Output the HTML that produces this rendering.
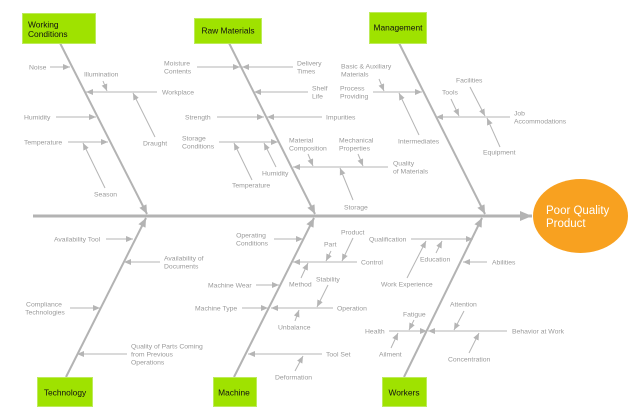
<!DOCTYPE html>
<html><head><meta charset="utf-8"><style>
html,body{margin:0;padding:0;background:#fff;}
svg{display:block;}
.l{stroke:#b5b5b5;stroke-width:1;fill:none;marker-end:url(#a);}
.t{font-family:"Liberation Sans",sans-serif;font-size:6.8px;fill:#9a9a9a;}
.b{font-family:"Liberation Sans",sans-serif;font-size:8.4px;fill:#111;}
</style></head><body>
<svg width="640" height="418" viewBox="0 0 640 418" xmlns="http://www.w3.org/2000/svg">
<defs>
<marker id="a" markerUnits="userSpaceOnUse" markerWidth="8" markerHeight="6" refX="7" refY="3" orient="auto"><path d="M0,0 L7,3 L0,6 z" fill="#b5b5b5"/></marker>
<marker id="m" markerUnits="userSpaceOnUse" markerWidth="10" markerHeight="8" refX="9" refY="4" orient="auto"><path d="M0,0 L9,4 L0,8 z" fill="#b3b3b3"/></marker>
<marker id="s" markerUnits="userSpaceOnUse" markerWidth="13" markerHeight="11" refX="12" refY="5" orient="auto"><path d="M0,0 L12,5 L0,10 z" fill="#b3b3b3"/></marker>
</defs>

<!-- spine -->
<line x1="33" y1="216" x2="532" y2="216" stroke="#b3b3b3" stroke-width="3" marker-end="url(#s)"/>
<!-- main bones -->
<g stroke="#b3b3b3" stroke-width="2" marker-end="url(#m)">
<line x1="60" y1="43" x2="147" y2="214"/>
<line x1="229" y1="43" x2="315" y2="214"/>
<line x1="399" y1="43" x2="485" y2="214"/>
<line x1="66" y1="377" x2="146" y2="218"/>
<line x1="234" y1="377" x2="314" y2="218"/>
<line x1="404" y1="377" x2="482" y2="218"/>
</g>

<!-- effect -->
<ellipse cx="580.5" cy="216" rx="47.5" ry="37" fill="#f8a120"/>
<text x="546" y="214" font-family="Liberation Sans,sans-serif" font-size="11.5" fill="#fff">Poor Quality</text>
<text x="546" y="227" font-family="Liberation Sans,sans-serif" font-size="11.5" fill="#fff">Product</text>

<!-- boxes -->
<g fill="#9fe200" stroke="#bdeb5a" stroke-width="1">
<rect x="22.5" y="13.5" width="73" height="30"/>
<rect x="194.5" y="18.5" width="67" height="25"/>
<rect x="369.5" y="12.5" width="57" height="31"/>
<rect x="37.5" y="377.5" width="55" height="29"/>
<rect x="213.5" y="377.5" width="43" height="29"/>
<rect x="382.5" y="377.5" width="44" height="29"/>
</g>
<text class="b" x="28" y="27.5">Working</text>
<text class="b" x="28" y="37">Conditions</text>
<text class="b" x="228" y="33.5" text-anchor="middle">Raw Materials</text>
<text class="b" x="398" y="30.5" text-anchor="middle">Management</text>
<text class="b" x="65" y="395.5" text-anchor="middle">Technology</text>
<text class="b" x="234" y="395.5" text-anchor="middle">Machine</text>
<text class="b" x="404" y="395.5" text-anchor="middle">Workers</text>

<!-- sub arrows -->
<g class="l">
<!-- Working Conditions -->
<line class="l" x1="50" y1="67" x2="70" y2="67"/>
<line class="l" x1="157" y1="92" x2="86" y2="92"/>
<line class="l" x1="103" y1="81" x2="107" y2="91"/>
<line class="l" x1="56" y1="117" x2="96" y2="117"/>
<line class="l" x1="155" y1="137" x2="133" y2="93"/>
<line class="l" x1="68" y1="142" x2="108" y2="142"/>
<line class="l" x1="105" y1="188" x2="83" y2="143"/>
<!-- Raw Materials -->
<line class="l" x1="197" y1="67" x2="240" y2="67"/>
<line class="l" x1="293" y1="67" x2="242" y2="67"/>
<line class="l" x1="308" y1="92" x2="254" y2="92"/>
<line class="l" x1="217" y1="117" x2="264" y2="117"/>
<line class="l" x1="322" y1="117" x2="267" y2="117"/>
<line class="l" x1="219" y1="142" x2="278" y2="142"/>
<line class="l" x1="252" y1="180" x2="234" y2="143"/>
<line class="l" x1="276" y1="167" x2="264" y2="143"/>
<line class="l" x1="308" y1="154" x2="313" y2="166"/>
<line class="l" x1="358" y1="154" x2="363" y2="166"/>
<line class="l" x1="388" y1="167" x2="293" y2="167"/>
<line class="l" x1="353" y1="200" x2="340" y2="168"/>
<!-- Management -->
<line class="l" x1="379" y1="79" x2="384" y2="91"/>
<line class="l" x1="373" y1="92" x2="422" y2="92"/>
<line class="l" x1="419" y1="135" x2="399" y2="93"/>
<line class="l" x1="470" y1="87" x2="485" y2="116"/>
<line class="l" x1="451" y1="99" x2="459" y2="116"/>
<line class="l" x1="510" y1="117" x2="436" y2="117"/>
<line class="l" x1="500" y1="147" x2="487" y2="118"/>
<!-- Technology -->
<line class="l" x1="106" y1="239" x2="133" y2="239"/>
<line class="l" x1="160" y1="262" x2="124" y2="262"/>
<line class="l" x1="70" y1="308" x2="100" y2="308"/>
<line class="l" x1="127" y1="354" x2="77" y2="354"/>
<!-- Machine -->
<line class="l" x1="274" y1="239" x2="303" y2="239"/>
<line class="l" x1="353" y1="238" x2="342" y2="261"/>
<line class="l" x1="331" y1="251" x2="326" y2="261"/>
<line class="l" x1="357" y1="262" x2="293" y2="262"/>
<line class="l" x1="301" y1="278" x2="308" y2="263"/>
<line class="l" x1="256" y1="285" x2="279" y2="285"/>
<line class="l" x1="328" y1="285" x2="317" y2="307"/>
<line class="l" x1="242" y1="308" x2="268" y2="308"/>
<line class="l" x1="333" y1="308" x2="271" y2="308"/>
<line class="l" x1="295" y1="321" x2="299" y2="310"/>
<line class="l" x1="322" y1="354" x2="248" y2="354"/>
<line class="l" x1="295" y1="371" x2="303" y2="356"/>
<!-- Workers -->
<line class="l" x1="411" y1="239" x2="473" y2="239"/>
<line class="l" x1="436" y1="253" x2="442" y2="241"/>
<line class="l" x1="407" y1="278" x2="426" y2="241"/>
<line class="l" x1="487" y1="262" x2="463" y2="262"/>
<line class="l" x1="464" y1="311" x2="454" y2="330"/>
<line class="l" x1="414" y1="320" x2="409" y2="330"/>
<line class="l" x1="389" y1="331" x2="427" y2="331"/>
<line class="l" x1="507" y1="331" x2="428" y2="331"/>
<line class="l" x1="391" y1="348" x2="398" y2="333"/>
<line class="l" x1="469" y1="353" x2="479" y2="333"/>
</g>

<!-- labels -->
<g class="t">
<text x="29" y="69.4">Noise</text>
<text x="84" y="76.4">Illumination</text>
<text x="162" y="94.4">Workplace</text>
<text x="24" y="119.4">Humidity</text>
<text x="143" y="145.4">Draught</text>
<text x="24" y="144.4">Temperature</text>
<text x="94" y="196.4">Season</text>

<text x="164" y="65.4">Moisture</text><text x="164" y="73.4">Contents</text>
<text x="297" y="65.4">Delivery</text><text x="297" y="73.4">Times</text>
<text x="312" y="90.4">Shelf</text><text x="312" y="98.4">Life</text>
<text x="185" y="119.4">Strength</text>
<text x="326" y="119.4">Impurities</text>
<text x="182" y="140.4">Storage</text><text x="182" y="148.4">Conditions</text>
<text x="232" y="187.4">Temperature</text>
<text x="262" y="175.4">Humidity</text>
<text x="289" y="142.4">Material</text><text x="289" y="150.4">Composition</text>
<text x="339" y="142.4">Mechanical</text><text x="339" y="150.4">Properties</text>
<text x="393" y="165.4">Quality</text><text x="393" y="173.4">of Materials</text>
<text x="344" y="209.4">Storage</text>

<text x="341" y="68.4">Basic &amp; Auxiliary</text><text x="341" y="76.4">Materials</text>
<text x="340" y="90.4">Process</text><text x="340" y="98.4">Providing</text>
<text x="398" y="143.4">Intermediates</text>
<text x="456" y="82.4">Facilities</text>
<text x="442" y="94.4">Tools</text>
<text x="514" y="115.4">Job</text><text x="514" y="123.4">Accommodations</text>
<text x="483" y="154.4">Equipment</text>

<text x="54" y="241.4">Availability Tool</text>
<text x="164" y="260.4">Availability of</text><text x="164" y="268.4">Documents</text>
<text x="44" y="306.4" text-anchor="middle">Compliance</text><text x="45" y="314.4" text-anchor="middle">Technologies</text>
<text x="131" y="348.4">Quality of Parts Coming</text><text x="131" y="356.4">from Previous</text><text x="131" y="364.4">Operations</text>

<text x="251" y="237.4" text-anchor="middle">Operating</text><text x="252" y="245.4" text-anchor="middle">Conditions</text>
<text x="341" y="234.4">Product</text>
<text x="324" y="246.4">Part</text>
<text x="361" y="264.4">Control</text>
<text x="289" y="286.4">Method</text>
<text x="208" y="287.4">Machine Wear</text>
<text x="316" y="281.4">Stability</text>
<text x="195" y="310.4">Machine Type</text>
<text x="337" y="310.4">Operation</text>
<text x="278" y="329.4">Unbalance</text>
<text x="326" y="356.4">Tool Set</text>
<text x="275" y="379.4">Deformation</text>

<text x="369" y="241.4">Qualification</text>
<text x="420" y="261.4">Education</text>
<text x="381" y="286.4">Work Experience</text>
<text x="492" y="264.4">Abilities</text>
<text x="450" y="306.4">Attention</text>
<text x="403" y="316.4">Fatigue</text>
<text x="365" y="333.4">Health</text>
<text x="512" y="333.4">Behavior at Work</text>
<text x="379" y="356.4">Ailment</text>
<text x="448" y="361.4">Concentration</text>
</g>
</svg>
</body></html>
